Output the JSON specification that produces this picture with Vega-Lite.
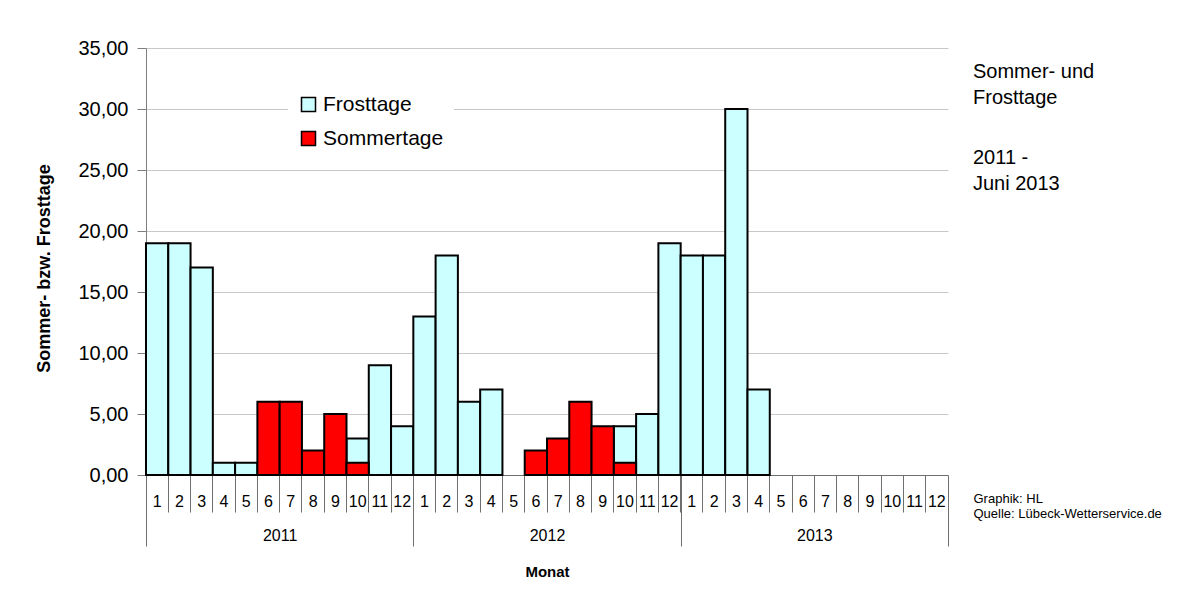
{
  "$schema": "https://vega.github.io/schema/vega-lite/v6.json",
  "width": 802,
  "height": 427,
  "autosize": {"type": "none"},
  "padding": {"left": 146, "top": 48, "right": 248, "bottom": 129},
  "background": "white",
  "config": {"font": "Liberation Sans", "view": {"stroke": null}},
  "title": {
    "text": ["Sommer- und", "Frosttage"],
    "subtitle": ["2011 -", "Juni 2013"],
    "orient": "top",
    "anchor": "end",
    "frame": "group",
    "align": "left",
    "dx": 25,
    "dy": 156,
    "offset": 0,
    "font": "Liberation Sans",
    "fontSize": 20,
    "fontWeight": "normal",
    "color": "black",
    "lineHeight": 26,
    "subtitleFont": "Liberation Sans",
    "subtitleFontSize": 20,
    "subtitleColor": "black",
    "subtitleLineHeight": 26,
    "subtitlePadding": 40
  },
  "datasets": {
    "monate": [
      {"k": "2011-01", "Frosttage": 19, "Sommertage": 0},
      {"k": "2011-02", "Frosttage": 19, "Sommertage": 0},
      {"k": "2011-03", "Frosttage": 17, "Sommertage": 0},
      {"k": "2011-04", "Frosttage": 1, "Sommertage": 0},
      {"k": "2011-05", "Frosttage": 1, "Sommertage": 0},
      {"k": "2011-06", "Frosttage": 0, "Sommertage": 6},
      {"k": "2011-07", "Frosttage": 0, "Sommertage": 6},
      {"k": "2011-08", "Frosttage": 0, "Sommertage": 2},
      {"k": "2011-09", "Frosttage": 0, "Sommertage": 5},
      {"k": "2011-10", "Frosttage": 3, "Sommertage": 1},
      {"k": "2011-11", "Frosttage": 9, "Sommertage": 0},
      {"k": "2011-12", "Frosttage": 4, "Sommertage": 0},
      {"k": "2012-01", "Frosttage": 13, "Sommertage": 0},
      {"k": "2012-02", "Frosttage": 18, "Sommertage": 0},
      {"k": "2012-03", "Frosttage": 6, "Sommertage": 0},
      {"k": "2012-04", "Frosttage": 7, "Sommertage": 0},
      {"k": "2012-05", "Frosttage": 0, "Sommertage": 0},
      {"k": "2012-06", "Frosttage": 0, "Sommertage": 2},
      {"k": "2012-07", "Frosttage": 0, "Sommertage": 3},
      {"k": "2012-08", "Frosttage": 0, "Sommertage": 6},
      {"k": "2012-09", "Frosttage": 0, "Sommertage": 4},
      {"k": "2012-10", "Frosttage": 4, "Sommertage": 1},
      {"k": "2012-11", "Frosttage": 5, "Sommertage": 0},
      {"k": "2012-12", "Frosttage": 19, "Sommertage": 0},
      {"k": "2013-01", "Frosttage": 18, "Sommertage": 0},
      {"k": "2013-02", "Frosttage": 18, "Sommertage": 0},
      {"k": "2013-03", "Frosttage": 30, "Sommertage": 0},
      {"k": "2013-04", "Frosttage": 7, "Sommertage": 0},
      {"k": "2013-05", "Frosttage": 0, "Sommertage": 0},
      {"k": "2013-06", "Frosttage": 0, "Sommertage": 0},
      {"k": "2013-07", "Frosttage": 0, "Sommertage": 0},
      {"k": "2013-08", "Frosttage": 0, "Sommertage": 0},
      {"k": "2013-09", "Frosttage": 0, "Sommertage": 0},
      {"k": "2013-10", "Frosttage": 0, "Sommertage": 0},
      {"k": "2013-11", "Frosttage": 0, "Sommertage": 0},
      {"k": "2013-12", "Frosttage": 0, "Sommertage": 0}
    ],
    "jahre": [
      {"Jahr": "2011", "Monatsindex": 6},
      {"Jahr": "2012", "Monatsindex": 18},
      {"Jahr": "2013", "Monatsindex": 30}
    ]
  },
  "layer": [
    {
      "data": {"name": "monate"},
      "layer": [
        {
          "transform": [{"filter": "datum.Frosttage > 0"}],
          "mark": {"type": "bar", "stroke": "black", "strokeWidth": 2},
          "encoding": {
            "x": {
              "field": "k",
              "type": "ordinal",
              "scale": {
                "domain": ["2011-01","2011-02","2011-03","2011-04","2011-05","2011-06","2011-07","2011-08","2011-09","2011-10","2011-11","2011-12","2012-01","2012-02","2012-03","2012-04","2012-05","2012-06","2012-07","2012-08","2012-09","2012-10","2012-11","2012-12","2013-01","2013-02","2013-03","2013-04","2013-05","2013-06","2013-07","2013-08","2013-09","2013-10","2013-11","2013-12"],
                "paddingInner": 0,
                "paddingOuter": 0
              },
              "axis": {
                "orient": "bottom",
                "title": "Monat",
                "titleFontSize": 15,
                "titleFontWeight": "bold",
                "titleColor": "black",
                "titleY": 96,
                "titleBaseline": "middle",
                "labelExpr": "'' + toNumber(slice(datum.value, 5))",
                "labelAngle": 0,
                "labelFontSize": 16,
                "labelColor": "black",
                "labelBaseline": "middle",
                "labelPadding": -11,
                "labelOverlap": false,
                "tickSize": 37,
                "bandPosition": 0,
                "tickColor": "#6f6f6f",
                "domainColor": "#6f6f6f",
                "grid": false
              }
            },
            "y": {
              "field": "Frosttage",
              "type": "quantitative",
              "scale": {"domain": [0, 35], "nice": false},
              "axis": {
                "values": [0, 5, 10, 15, 20, 25, 30, 35],
                "format": ".2f",
                "labelExpr": "replace(datum.label, '.', ',')",
                "labelFontSize": 20,
                "labelColor": "black",
                "labelPadding": 9,
                "tickSize": 9,
                "tickColor": "#7f7f7f",
                "domainColor": "#7f7f7f",
                "grid": true,
                "gridColor": "#c8c8c8",
                "title": "Sommer- bzw. Frosttage",
                "titleFontSize": 18,
                "titleFontWeight": "bold",
                "titleColor": "black",
                "titleAngle": -90,
                "titleX": -102,
                "titleY": 220,
                "titleAlign": "center",
                "titleBaseline": "middle"
              }
            },
            "color": {
              "datum": "Frosttage",
              "type": "nominal",
              "scale": {"domain": ["Frosttage", "Sommertage"], "range": ["#ccffff", "#ff0000"]},
              "legend": {
                "title": null,
                "orient": "none",
                "legendX": 142,
                "legendY": 36,
                "padding": 10,
                "fillColor": "white",
                "symbolType": "square",
                "symbolSize": 196,
                "symbolStrokeColor": "black",
                "symbolStrokeWidth": 1.5,
                "symbolOpacity": 1,
                "labelFontSize": 21,
                "labelColor": "black",
                "labelOffset": 4,
                "labelLimit": 300,
                "rowPadding": 12
              }
            }
          }
        },
        {
          "transform": [{"filter": "datum.Sommertage > 0"}],
          "mark": {"type": "bar", "stroke": "black", "strokeWidth": 2},
          "encoding": {
            "x": {"field": "k", "type": "ordinal"},
            "y": {"field": "Sommertage", "type": "quantitative"},
            "color": {"datum": "Sommertage", "type": "nominal"}
          }
        }
      ]
    },
    {
      "data": {"name": "jahre"},
      "mark": {"type": "rule", "strokeOpacity": 0},
      "encoding": {
        "x": {
          "field": "Monatsindex",
          "type": "quantitative",
          "scale": {"domain": [0, 36], "nice": false, "zero": false},
          "axis": {
            "orient": "bottom",
            "values": [0, 6, 12, 18, 24, 30, 36],
            "labelExpr": "datum.value == 6 ? '2011' : datum.value == 18 ? '2012' : datum.value == 30 ? '2013' : ''",
            "title": ["Graphik: HL", "Quelle: Lübeck-Wetterservice.de"],
            "titleFontSize": 13,
            "titleFontWeight": "normal",
            "titleColor": "black",
            "titleAlign": "left",
            "titleX": 827,
            "titleY": 27,
            "titleBaseline": "alphabetic",
            "labelAngle": 0,
            "labelFontSize": 16,
            "labelColor": "black",
            "labelBaseline": "middle",
            "labelPadding": -11,
            "labelFlush": false,
            "labelOverlap": false,
            "tickSize": 71,
            "tickOpacity": {"condition": {"test": "datum.value % 12 != 0", "value": 0}, "value": 1},
            "tickColor": "#6f6f6f",
            "domain": false,
            "grid": false
          }
        }
      }
    }
  ],
  "resolve": {"scale": {"x": "independent"}, "axis": {"x": "independent"}}
}
